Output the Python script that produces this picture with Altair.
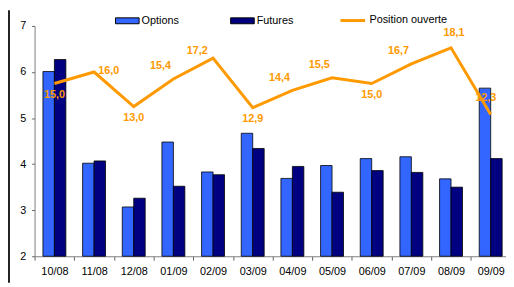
import altair as alt
import pandas as pd

months = ["10/08", "11/08", "12/08", "01/09", "02/09", "03/09",
          "04/09", "05/09", "06/09", "07/09", "08/09", "09/09"]
options = [6.01, 4.02, 3.07, 4.48, 3.83, 4.67, 3.69, 3.97, 4.12, 4.16, 3.68, 5.65]
futures = [6.27, 4.07, 3.26, 3.52, 3.77, 4.34, 3.95, 3.39, 3.86, 3.82, 3.50, 4.12]
position = [15.0, 16.0, 13.0, 15.4, 17.2, 12.9, 14.4, 15.5, 15.0, 16.7, 18.1, 12.3]
series_names = ["Options", "Futures"]
line_name = "Position ouverte"

bars_df = pd.DataFrame({
    "month": months * 2,
    "series": ["Options"] * len(months) + ["Futures"] * len(months),
    "value": options + futures,
})
line_df = pd.DataFrame({"month": months, "name": line_name, "pos": position})

FONT = "Liberation Sans"
W = 479
H = 234
STEP = 40.3
ORANGE = "#FF9900"

xscale = alt.Scale(domain=months, range=[0, 12 * STEP], paddingInner=0, paddingOuter=0)

bars = alt.Chart(bars_df).mark_bar(stroke="black", strokeWidth=0.8).encode(
    x=alt.X("month:N", sort=months, scale=xscale,
            axis=alt.Axis(title=None, labelAngle=0, tickBand="extent", tickSize=4,
                          labelPadding=6, labelFont=FONT, labelFontSize=11,
                          labelColor="black", domainColor="#808080", tickColor="#606060",
                          grid=False)),
    xOffset=alt.XOffset("series:N", sort=series_names,
                        scale=alt.Scale(domain=series_names, paddingOuter=0.73, paddingInner=0)),
    y=alt.Y("value:Q", scale=alt.Scale(domain=[2, 7], nice=False, zero=False),
            axis=alt.Axis(title=None, values=[2, 3, 4, 5, 6, 7], tickSize=3, labelPadding=6,
                          labelFont=FONT, labelFontSize=11, labelColor="black",
                          domainColor="#808080", tickColor="#606060", grid=False)),
    y2=alt.datum(2),
    fill=alt.Fill("series:N", sort=series_names,
                  scale=alt.Scale(domain=series_names, range=["#3366FF", "#000080"]),
                  legend=alt.Legend(title=None, orient="none", legendX=81.7, legendY=-18,
                                    direction="horizontal",
                                    symbolType="M-1,-0.25H1V0.25H-1Z", symbolSize=576,
                                    symbolStrokeColor="black", symbolStrokeWidth=1,
                                    labelFont=FONT, labelFontSize=11, labelColor="black",
                                    labelOffset=2, columnPadding=50, padding=0)),
)

ysec = alt.Scale(domain=[0, 20], nice=False, zero=True)

line = alt.Chart(line_df).mark_line(strokeWidth=3).encode(
    x=alt.X("month:N", sort=months, scale=xscale),
    y=alt.Y("pos:Q", scale=ysec,
            axis=alt.Axis(orient="right", offset=-W, values=[0, 4, 8, 12, 16, 20],
                          labels=False, domain=False, tickSize=4, tickColor="#606060",
                          title=None, grid=False)),
    stroke=alt.Stroke("name:N", scale=alt.Scale(domain=[line_name], range=[ORANGE]),
                      legend=alt.Legend(title=None, orient="none", legendX=309.3, legendY=-19.5,
                                        symbolType="stroke", symbolSize=625,
                                        symbolStrokeWidth=3, labelFont=FONT, labelFontSize=11,
                                        labelColor="black", labelOffset=3, padding=0)),
)

placements = [
    (["10/08", "12/08", "03/09", "06/09"], 0, 12),
    (["01/09", "04/09", "05/09", "07/09"], -13, -13),
    (["02/09"], -16, -7),
    (["11/08"], 15, -1),
    (["08/09"], 3, -15),
    (["09/09"], -5, -17),
]

texts = []
for group, dx, dy in placements:
    t = alt.Chart(line_df).transform_filter(
        alt.FieldOneOfPredicate(field="month", oneOf=group)
    ).transform_calculate(
        label="replace(format(datum.pos, '.1f'), '.', ',')"
    ).mark_text(font=FONT, fontSize=11, fontWeight="bold", color=ORANGE, dx=dx, dy=dy).encode(
        x=alt.X("month:N", sort=months, scale=xscale),
        y=alt.Y("pos:Q", scale=ysec, axis=None),
        text="label:N",
    )
    texts.append(t)

frame = alt.Chart(pd.DataFrame({"a": [0]})).mark_rule(color="#222222", strokeWidth=2).encode(
    x=alt.value(-26), y=alt.value(-16), y2=alt.value(261)
)

sec = alt.layer(line, *texts)

chart = alt.layer(bars, sec, frame).resolve_scale(y="independent").properties(
    width=W, height=H,
    padding={"left": 27, "top": 16, "right": 0, "bottom": 29},
    autosize=alt.AutoSizeParams(type="none"),
    background="white",
).configure_view(stroke=None)

chart.save("out.html", embed_options={"renderer": "svg", "actions": False})
